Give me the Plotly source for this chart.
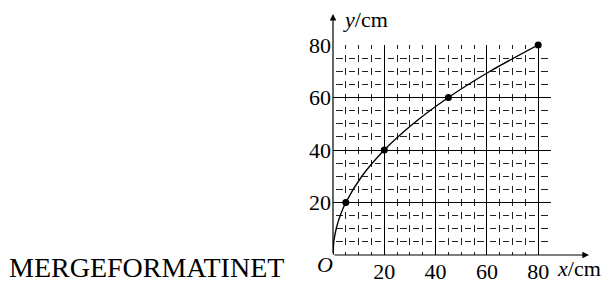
import plotly.graph_objects as go

# data
point_x = [5, 20, 45, 80]
point_y = [20, 40, 60, 80]
curve_x = [0, 0.3, 1.25, 2.8, 5, 11.25, 20, 31.25, 45, 61.25, 80]
curve_y = [0, 5, 10, 15, 20, 30, 40, 50, 60, 70, 80]
x_ticks = [20, 40, 60, 80]
y_ticks = [20, 40, 60, 80]

W, H = 603, 284
L, R, T, B = 333, 52, 45, 29
pw, ph = W - L - R, H - T - B
x_range = [0, 85]
y_range = [0, 80]
cx = pw / 17.0   # px per 5-unit cell in x
cy = ph / 16.0   # px per 5-unit cell in y
FONT = "Liberation Serif, Times New Roman, serif"
FS = 22

def gap_at_cross(c, d):
    # dash centred in each cell, gaps at crossings
    g = (c - d) / 2.0
    return f"0px,{g:.3f}px,{d:.3f}px,{g:.3f}px"

def dash_at_cross(c, d):
    # dash centred on each crossing
    h = d / 2.0
    return f"{h:.3f}px,{c - d:.3f}px,{h:.3f}px,0px"

fig = go.Figure()
fig.add_trace(go.Scatter(x=curve_x, y=curve_y, mode="lines",
                         line=dict(color="black", width=1.4, shape="spline", smoothing=0.8),
                         hoverinfo="skip", showlegend=False, cliponaxis=False))
fig.add_trace(go.Scatter(x=point_x, y=point_y, mode="markers",
                         marker=dict(color="black", size=7),
                         showlegend=False, cliponaxis=False))

fig.update_layout(
    width=W, height=H,
    margin=dict(l=L, r=R, t=T, b=B, pad=0, autoexpand=False),
    paper_bgcolor="white", plot_bgcolor="white",
    font=dict(family=FONT, size=FS, color="black"),
    xaxis=dict(range=x_range, tickvals=x_ticks, ticktext=[str(v) for v in x_ticks],
               showgrid=True, gridcolor="black", gridwidth=1.4,
               minor=dict(tickmode="linear", tick0=0, dtick=5, showgrid=True,
                          gridcolor="#222", gridwidth=1, griddash=dash_at_cross(cy, 7)),
               zeroline=False, showline=False, ticks="", ticklabelstandoff=1,
               automargin=False,
               tickfont=dict(family=FONT, size=FS, color="black")),
    yaxis=dict(range=y_range, tickvals=y_ticks, ticktext=[str(v) for v in y_ticks],
               showgrid=True, gridcolor="black", gridwidth=1.4,
               minor=dict(tickmode="linear", tick0=0, dtick=5, showgrid=True,
                          gridcolor="#222", gridwidth=1, griddash=gap_at_cross(cx, 6.2)),
               zeroline=False, showline=False, ticks="", ticklabelstandoff=1,
               automargin=False,
               tickfont=dict(family=FONT, size=FS, color="black")),
)

def px2paper_x(px):
    return (px - L) / pw

def px2paper_y(py):
    return (H - B - py) / ph

# axes with arrows
fig.add_annotation(xref="paper", yref="paper", x=px2paper_x(589), y=0, text="",
                   showarrow=True, ax=-(589 - L), ay=0, axref="pixel", ayref="pixel",
                   arrowhead=2, arrowsize=1.1, arrowwidth=1.2, arrowcolor="black")
fig.add_annotation(xref="paper", yref="paper", x=0, y=px2paper_y(14), text="",
                   showarrow=True, ax=0, ay=(H - B - 14), axref="pixel", ayref="pixel",
                   arrowhead=2, arrowsize=1.1, arrowwidth=1.2, arrowcolor="black")

fig.add_annotation(xref="paper", yref="paper", x=px2paper_x(341), y=px2paper_y(20),
                   xanchor="left", yanchor="middle", showarrow=False,
                   text="<i>y</i>/cm", font=dict(family=FONT, size=FS, color="black"))
fig.add_annotation(xref="paper", yref="paper", x=px2paper_x(555), y=px2paper_y(268),
                   xanchor="left", yanchor="middle", showarrow=False,
                   text="<i>x</i>/cm", font=dict(family=FONT, size=FS, color="black"))
fig.add_annotation(xref="paper", yref="paper", x=px2paper_x(325), y=px2paper_y(264),
                   xanchor="center", yanchor="middle", showarrow=False,
                   text="<i>O</i>", font=dict(family=FONT, size=FS, color="black"))
fig.add_annotation(xref="paper", yref="paper", x=px2paper_x(7), y=px2paper_y(267),
                   xanchor="left", yanchor="middle", showarrow=False,
                   text="MERGEFORMATINET", font=dict(family=FONT, size=28, color="black"))

fig.write_html("out.html", config={"displayModeBar": False},
               post_script="document.body.style.margin='0px';document.body.style.overflow='hidden';")
